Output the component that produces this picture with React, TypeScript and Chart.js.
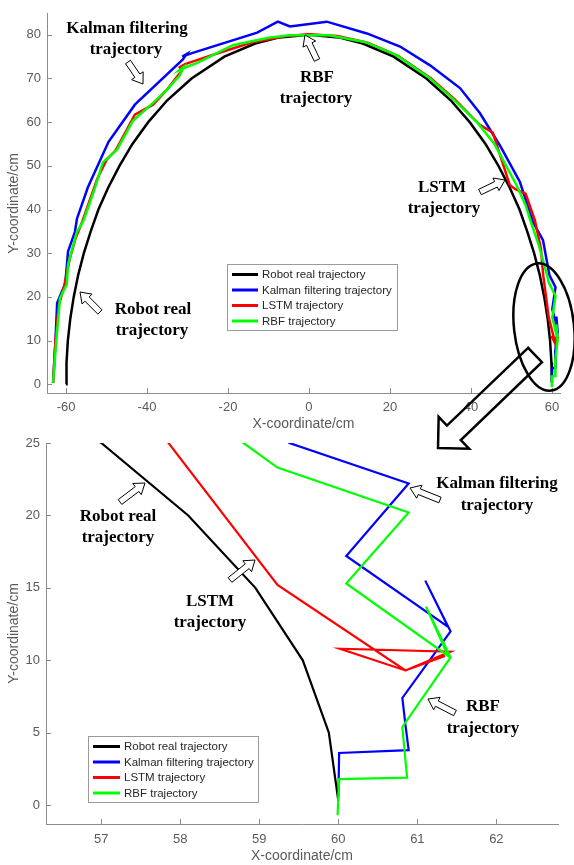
import React, { useEffect, useRef } from 'react';
import { Chart, registerables } from 'chart.js';

Chart.register(...registerables);

// ---------------- data ----------------
const seriesLabels = ['Robot real trajectory', 'Kalman filtering trajectory', 'LSTM trajectory', 'RBF trajectory'];
const seriesColors = ['#000000', '#0000ff', '#ff0000', '#00ff00'];

const realX = [-60, -59.88, -59.55, -58.95, -58.1, -57, -55.6, -53.9, -52, -49.6, -46.8, -43.6, -39.7, -35, -29, -20.9, -13.3, -7.3, 0, 7.3, 13.3, 20.9, 29, 35, 39.7, 43.6, 46.8, 49.6, 52, 53.9, 55.6, 57, 58.1, 58.95, 59.55, 59.88, 60];
const realY = [0, 5, 10, 15, 20, 25, 30, 35, 40, 45, 50, 55, 60, 65, 70, 75, 78, 79.4, 80, 79.4, 78, 75, 70, 65, 60, 55, 50, 45, 40, 35, 30, 25, 20, 15, 10, 5, 0.3];

const kalmanX = [-63.2, -62.6, -62.2, -61.0, -60.2, -59.5, -57.8, -57.3, -54.6, -49.5, -43, -31.2, -30.2, -31.3, -28.9, -12.8, -7.7, -4.7, 4.4, 14.3, 22.5, 29.9, 37.3, 42.2, 47.2, 52.1, 55.3, 57.8, 59.38, 60.89, 60.1, 61.39, 61.1, 61.42, 60.81, 60.85, 60.89, 60.01, 60];
const kalmanY = [0.3, 10, 18.6, 21.3, 22.9, 30.4, 34.9, 37.9, 45.1, 55.5, 64, 74.3, 75.6, 75.0, 75.8, 80.5, 83, 81.9, 83, 80.3, 77.3, 73, 67.8, 62.1, 54.6, 46.3, 37.2, 33, 25, 22.2, 17.2, 12.3, 15.5, 12.0, 7.4, 5.5, 3.8, 3.6, 0.5];

const lstmX = [-63.2, -62.6, -61.8, -60.6, -59.9, -59.0, -57.6, -56, -52.3, -49.9, -47.8, -46.7, -43, -38.5, -35, -31.4, -31.9, -30.6, -28.6, -22.7, -14, -5, 0, 7, 14.5, 22, 30, 36, 42.2, 45.4, 49.6, 50.9, 53.5, 55.8, 57.3, 57.85, 59.23, 60.85, 61.42, 60.02, 60.85, 61.35];
const lstmY = [0.3, 10, 18, 22, 25, 29, 33.5, 37.2, 47, 51.5, 53.5, 55.3, 61.7, 64, 67.5, 71.8, 72.6, 73.3, 73.9, 75.7, 78.3, 79.8, 80.1, 79.7, 78.2, 75.2, 70.1, 65.2, 59.4, 57.6, 45.6, 44.7, 43.6, 37.5, 31, 25, 15.2, 9.3, 10.6, 10.8, 9.3, 10.3];

const rbfX = [-63.2, -62.4, -61.5, -59.8, -59.5, -57.3, -55.8, -53.2, -50.9, -47.4, -43.5, -38.5, -35, -31.9, -31.0, -31.8, -29.5, -27.7, -18.8, -10, -4.7, 5, 14, 21.5, 29.5, 35.5, 41.5, 45.8, 48.7, 51.3, 53.5, 54.8, 56.7, 58.8, 59.23, 60.89, 60.1, 61.39, 61.11, 61.42, 60.81, 60.87, 60.01, 59.99];
const rbfY = [0.3, 10, 19.7, 22.9, 27.4, 34.9, 37.2, 44, 50.8, 53.7, 60.3, 64.4, 67.5, 70.7, 72.6, 72.0, 72.9, 73.5, 77.6, 79.3, 79.9, 79.9, 78.3, 75.4, 70.3, 65.4, 60, 55, 50, 45.5, 41, 37.2, 32, 25, 23.3, 20.2, 15.3, 10.3, 13.7, 10.2, 5.4, 1.9, 1.8, -0.7];

const upperXTicks = [-60, -40, -20, 0, 20, 40, 60];
const upperYTicks = [0, 10, 20, 30, 40, 50, 60, 70, 80];
const lowerXTicks = [57, 58, 59, 60, 61, 62];
const lowerYTicks = [0, 5, 10, 15, 20, 25];

const xTitle = 'X-coordinate/cm';
const yTitle = 'Y-coordinate/cm';

// ---------------- styling ----------------
const W = 574;
const H = 865;
const AXIS_COLOR = '#8c8c8c';
const TICK_COLOR = '#5a5a5a';
const SANS = "'Liberation Sans', Arial, sans-serif";
const SERIF = "'Liberation Serif', 'Times New Roman', serif";

const series = [
  { x: realX, y: realY },
  { x: kalmanX, y: kalmanY },
  { x: lstmX, y: lstmY },
  { x: rbfX, y: rbfY },
];

type P = [number, number];

function hollowArrow(ctx: CanvasRenderingContext2D, tail: P, tip: P, shaftHalf: number, headLen: number, headHalf: number, lw: number, fill: string | null) {
  const dx = tip[0] - tail[0];
  const dy = tip[1] - tail[1];
  const len = Math.hypot(dx, dy);
  const ux = dx / len, uy = dy / len;
  const nx = -uy, ny = ux;
  const bx = tip[0] - ux * headLen, by = tip[1] - uy * headLen;
  ctx.beginPath();
  ctx.moveTo(tail[0] + nx * shaftHalf, tail[1] + ny * shaftHalf);
  ctx.lineTo(bx + nx * shaftHalf, by + ny * shaftHalf);
  ctx.lineTo(bx + nx * headHalf, by + ny * headHalf);
  ctx.lineTo(tip[0], tip[1]);
  ctx.lineTo(bx - nx * headHalf, by - ny * headHalf);
  ctx.lineTo(bx - nx * shaftHalf, by - ny * shaftHalf);
  ctx.lineTo(tail[0] - nx * shaftHalf, tail[1] - ny * shaftHalf);
  ctx.closePath();
  if (fill) {
    ctx.fillStyle = fill;
    ctx.fill();
  }
  ctx.lineWidth = lw;
  ctx.strokeStyle = '#000';
  ctx.lineJoin = 'miter';
  ctx.stroke();
}

interface Panel {
  xMin: number; xMax: number; yMin: number; yMax: number;
  xTicks: number[]; yTicks: number[];
  padding: { left: number; top: number; right: number; bottom: number };
  xAxisH: number; yAxisW: number; xTickPad: number;
  lineWidth: number;
  legend: { left: number; top: number; w: number; h: number; rows: number[]; lineX0: number; lineX1: number; textX: number };
  texts: [string, number, number][];
  arrows: [P, P][];
  extra?: (ctx: CanvasRenderingContext2D) => void;
}

const upperPanel: Panel = {
  xMin: -64.7, xMax: 62, yMin: -2, yMax: 84.8,
  xTicks: upperXTicks, yTicks: upperYTicks,
  padding: { left: 0, top: 9.5, right: 14, bottom: 432 },
  xAxisH: 40, yAxisW: 47, xTickPad: 7,
  lineWidth: 2.5,
  legend: { left: 227.5, top: 264.5, w: 170, h: 66, rows: [274.5, 290, 305.5, 321], lineX0: 232, lineX1: 258, textX: 262 },
  texts: [
    ['Kalman filtering', 127, 29], ['trajectory', 126, 50],
    ['RBF', 317, 78], ['trajectory', 316, 99],
    ['LSTM', 442, 188], ['trajectory', 444, 209],
    ['Robot real', 153, 310], ['trajectory', 152, 331],
  ],
  arrows: [
    [[128, 62], [143, 84]],
    [[317, 60], [305, 35]],
    [[480, 192], [505, 180]],
    [[100, 312], [80, 292]],
  ],
  extra: (ctx) => {
    ctx.beginPath();
    ctx.ellipse(544, 327, 30, 64, -0.11, 0, Math.PI * 2);
    ctx.lineWidth = 2.5;
    ctx.strokeStyle = '#000';
    ctx.stroke();
    hollowArrow(ctx, [535, 355], [438, 448], 10, 22, 22, 2.5, null);
  },
};

const lowerPanel: Panel = {
  xMin: 56.3, xMax: 62.78, yMin: -1.3, yMax: 25,
  xTicks: lowerXTicks, yTicks: lowerYTicks,
  padding: { left: 0, top: 443, right: 16, bottom: 0 },
  xAxisH: 41, yAxisW: 46, xTickPad: 8,
  lineWidth: 2.2,
  legend: { left: 88.5, top: 736.5, w: 170, h: 66, rows: [746.5, 762, 777.5, 793], lineX0: 93, lineX1: 120, textX: 124 },
  texts: [
    ['Kalman filtering', 497, 484], ['trajectory', 497, 506],
    ['Robot real', 118, 517], ['trajectory', 118, 538],
    ['LSTM', 210, 602], ['trajectory', 210, 623],
    ['RBF', 483, 707], ['trajectory', 483, 729],
  ],
  arrows: [
    [[440, 500], [410, 488]],
    [[120, 502], [145, 483]],
    [[230, 580], [255, 560]],
    [[455, 713], [428, 699]],
  ],
};

function makeDecor(p: Panel) {
  return {
    id: 'decor',
    afterDraw(chart: any) {
      const ctx: CanvasRenderingContext2D = chart.ctx;
      const ca = chart.chartArea;
      const sx = chart.scales.x;
      const sy = chart.scales.y;
      ctx.save();
      // inward tick marks (MATLAB style)
      ctx.strokeStyle = AXIS_COLOR;
      ctx.lineWidth = 1;
      for (const t of sx.ticks) {
        const px = Math.round(sx.getPixelForValue(t.value)) + 0.5;
        ctx.beginPath();
        ctx.moveTo(px, ca.bottom);
        ctx.lineTo(px, ca.bottom - 5);
        ctx.stroke();
      }
      for (const t of sy.ticks) {
        const py = Math.round(sy.getPixelForValue(t.value)) + 0.5;
        ctx.beginPath();
        ctx.moveTo(ca.left, py);
        ctx.lineTo(ca.left + 5, py);
        ctx.stroke();
      }
      // legend
      const lg = p.legend;
      ctx.fillStyle = '#ffffff';
      ctx.fillRect(lg.left, lg.top, lg.w, lg.h);
      ctx.strokeStyle = '#9a9a9a';
      ctx.lineWidth = 1;
      ctx.strokeRect(lg.left, lg.top, lg.w, lg.h);
      ctx.font = `11.5px ${SANS}`;
      ctx.textAlign = 'left';
      ctx.textBaseline = 'middle';
      chart.data.datasets.forEach((ds: any, i: number) => {
        const y = lg.rows[i];
        ctx.beginPath();
        ctx.moveTo(lg.lineX0, y);
        ctx.lineTo(lg.lineX1, y);
        ctx.strokeStyle = ds.borderColor;
        ctx.lineWidth = 3;
        ctx.stroke();
        ctx.fillStyle = '#262626';
        ctx.fillText(ds.label, lg.textX, y + 0.5);
      });
      // annotations
      if (p.extra) p.extra(ctx);
      ctx.fillStyle = '#000';
      ctx.font = `bold 17px ${SERIF}`;
      ctx.textAlign = 'center';
      ctx.textBaseline = 'middle';
      for (const [t, x, y] of p.texts) ctx.fillText(t, x, y);
      for (const [a, b] of p.arrows) hollowArrow(ctx, a, b, 3, 10, 7, 1, '#ffffff');
      ctx.restore();
    },
  };
}

function buildConfig(p: Panel): any {
  return {
    type: 'scatter',
    data: {
      datasets: series.map((s, i) => ({
        label: seriesLabels[i],
        data: s.x.map((x, j) => ({ x, y: s.y[j] })),
        borderColor: seriesColors[i],
        backgroundColor: seriesColors[i],
        borderWidth: p.lineWidth,
        showLine: true,
        pointRadius: 0,
        pointHoverRadius: 0,
        tension: 0,
        fill: false,
        order: 4 - i,
      })),
    },
    options: {
      responsive: false,
      animation: false,
      devicePixelRatio: 1,
      events: [],
      layout: { autoPadding: false, padding: p.padding },
      plugins: { legend: { display: false }, tooltip: { enabled: false } },
      scales: {
        x: {
          type: 'linear',
          min: p.xMin,
          max: p.xMax,
          afterBuildTicks: (s: any) => { s.ticks = p.xTicks.map((v) => ({ value: v })); },
          afterFit: (s: any) => { s.height = p.xAxisH; },
          grid: { display: false, drawTicks: false },
          border: { display: true, color: AXIS_COLOR, width: 1 },
          ticks: { padding: p.xTickPad, color: TICK_COLOR, font: { family: SANS, size: 13 }, autoSkip: false, maxRotation: 0, callback: (v: any) => String(v) },
          title: { display: true, text: xTitle, color: TICK_COLOR, font: { family: SANS, size: 14 }, padding: { top: 0, bottom: 0 } },
        },
        y: {
          type: 'linear',
          min: p.yMin,
          max: p.yMax,
          afterBuildTicks: (s: any) => { s.ticks = p.yTicks.map((v) => ({ value: v })); },
          afterFit: (s: any) => { s.width = p.yAxisW; },
          grid: { display: false, drawTicks: false },
          border: { display: true, color: AXIS_COLOR, width: 1 },
          ticks: { padding: 6, color: TICK_COLOR, font: { family: SANS, size: 13 }, autoSkip: false, callback: (v: any) => String(v) },
          title: { display: true, text: yTitle, color: TICK_COLOR, font: { family: SANS, size: 14 }, padding: { top: 6, bottom: 0 } },
        },
      },
    },
    plugins: [makeDecor(p)],
  };
}

export default function App() {
  const upperRef = useRef<HTMLCanvasElement>(null);
  const lowerRef = useRef<HTMLCanvasElement>(null);

  useEffect(() => {
    const c1 = new Chart(upperRef.current as HTMLCanvasElement, buildConfig(upperPanel));
    const c2 = new Chart(lowerRef.current as HTMLCanvasElement, buildConfig(lowerPanel));
    return () => {
      c1.destroy();
      c2.destroy();
    };
  }, []);

  const canvasStyle: React.CSSProperties = { position: 'absolute', left: 0, top: 0, width: W, height: H };
  return (
    <div style={{ position: 'absolute', left: 0, top: 0, width: W, height: H, background: '#ffffff', overflow: 'hidden' }}>
      <canvas ref={upperRef} width={W} height={H} style={canvasStyle} />
      <canvas ref={lowerRef} width={W} height={H} style={canvasStyle} />
    </div>
  );
}
